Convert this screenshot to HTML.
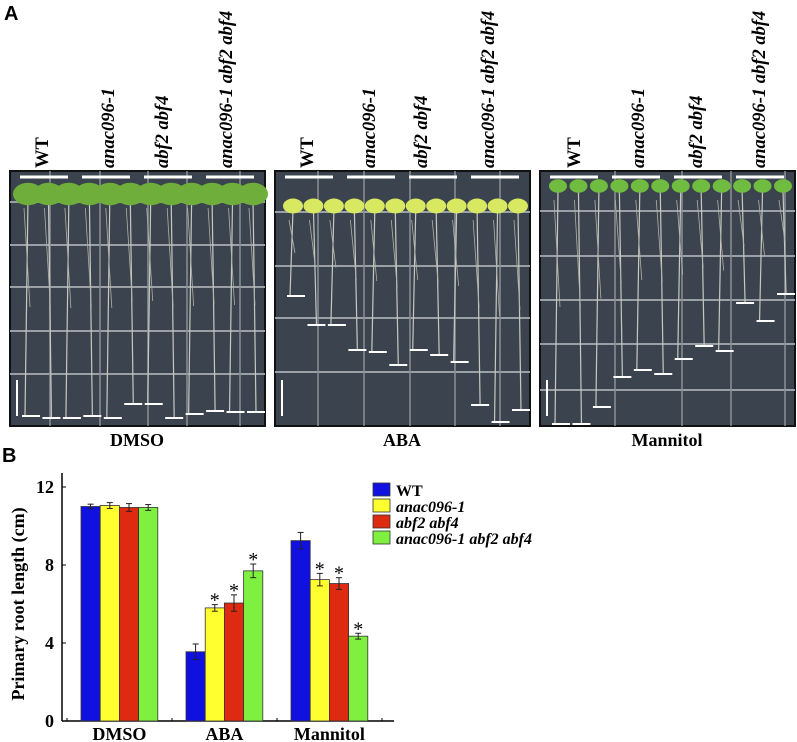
<!DOCTYPE html>
<html><head><meta charset="utf-8"><style>
body{margin:0;background:#fff;}
svg{display:block;font-family:"Liberation Serif",serif;}
</style></head><body>
<svg id="fig" width="797" height="742" viewBox="0 0 797 742">
<text x="4" y="20" font-family="Liberation Sans" font-weight="bold" font-size="20">A</text>
<text x="2" y="462" font-family="Liberation Sans" font-weight="bold" font-size="20">B</text>
<g id="photos"></g>
<g id="chart"></g>
</svg>
<script>
const NS='http://www.w3.org/2000/svg';
function mk(tag,attrs,parent,txt){const e=document.createElementNS(NS,tag);for(const k in attrs)e.setAttribute(k,attrs[k]);if(txt!==undefined)e.textContent=txt;parent.appendChild(e);return e;}

// ---------- Photo panels (illustrative) ----------
const photos=document.getElementById('photos');
const panels=[
 {name:'DMSO',x:10,labelX:[48,114,168,232],leaf:'#6fae3a',leafY:198,leafR:15,marks:[416,418,418,416,418,404,404,418,414,411,412,412],gridY:[202,245,287,331,374],gridX:[50,100,148,187,240]},
 {name:'ABA',x:275,labelX:[313,375,427,494],leaf:'#d8e860',leafY:210,leafR:10,marks:[296,325,325,350,352,365,350,355,362,405,422,410],gridY:[212,266,318,372],gridX:[318,364,410,455,500]},
 {name:'Mannitol',x:540,labelX:[580,644,702,765],leaf:'#6fbc40',leafY:190,leafR:9,marks:[424,424,407,377,370,374,359,346,351,303,321,294],gridY:[211,256,300,344,390],gridX:[615,682,731,785]}
];
const genos=['WT','anac096-1','abf2 abf4','anac096-1 abf2 abf4'];
panels.forEach((p,pi)=>{
 const g=mk('g',{},photos);
 
 
 mk('rect',{x:p.x,y:171,width:255,height:255,fill:'#3b444e',stroke:'#111',['stroke-width']:2},g);
 p.gridY.forEach(y=>mk('line',{x1:p.x,x2:p.x+255,y1:y,y2:y,stroke:'#9aa0a6','stroke-width':2},g));
 p.gridX.forEach(x=>mk('line',{x1:x,x2:x,y1:171,y2:426,stroke:'#8a9096','stroke-width':1.5},g));
 for(let i=0;i<4;i++){mk('line',{x1:p.x+10+i*62,x2:p.x+58+i*62,y1:177,y2:177,stroke:'#fff','stroke-width':3},g);}
 const n=p.marks.length;
 for(let i=0;i<n;i++){
  const cx=p.x+18+i*(225/(n-1));
  mk('line',{x1:cx,x2:cx+(i%2?3:-3),y1:p.leafY,y2:p.marks[i],stroke:'#c8c8c0','stroke-width':1.2},g);
  mk('line',{x1:cx-4,x2:cx+2,y1:p.leafY+10,y2:(p.leafY+p.marks[i])/2,stroke:'#b0b0a8','stroke-width':0.8},g);
  mk('ellipse',{cx:cx,cy:p.leafY-4,rx:p.leafR,ry:p.leafR*0.75,fill:p.leaf},g);
  mk('line',{x1:cx-6,x2:cx+12,y1:p.marks[i],y2:p.marks[i],stroke:'#fff','stroke-width':2},g);
 }
 mk('line',{x1:p.x+7,x2:p.x+7,y1:380,y2:416,stroke:'#fff','stroke-width':2},g);
 const t=mk('text',{x:p.x+127,y:446,'text-anchor':'middle','font-weight':'bold','font-size':18},photos,p.name);
 
 
 p.labelX.forEach((lx,i)=>{
  const tt=mk('text',{x:0,y:0,transform:`translate(${lx},168) rotate(-90)`,'font-weight':'bold','font-size':18.5,'font-style':i?'italic':'normal'},photos,genos[i]);
  
  
 });
});

// ---------- Bar chart ----------
const categories=['DMSO','ABA','Mannitol'];
const seriesNames=['WT','anac096-1','abf2 abf4','anac096-1 abf2 abf4'];
const seriesColors=['#1010e0','#ffff30','#dd2a10','#80f040'];
const valWT=[11.0,3.55,9.25];
const valAnac=[11.05,5.8,7.25];
const valAbf=[10.95,6.05,7.05];
const valTriple=[10.95,7.7,4.35];
const errWT=[0.12,0.4,0.42];
const errAnac=[0.15,0.17,0.32];
const errAbf=[0.2,0.42,0.3];
const errTriple=[0.15,0.35,0.15];
const sigWT=[0,0,0],sigAnac=[0,1,1],sigAbf=[0,1,1],sigTriple=[0,1,1];
const yTicks=[0,4,8,12];

const chart=document.getElementById('chart');
const y0=721,yScale=19.5,axX=62;
const yPos=v=>y0-v*yScale;
const groupX=i=>81+i*105;
const barW=19.2;
const vals=[valWT,valAnac,valAbf,valTriple],errs=[errWT,errAnac,errAbf,errTriple],sigs=[sigWT,sigAnac,sigAbf,sigTriple];

const ya=mk('line',{x1:axX,x2:axX,y1:y0,y2:473,stroke:'#000','stroke-width':1.5},chart);


const xa=mk('line',{x1:axX,x2:394,y1:y0,y2:y0,stroke:'#000','stroke-width':1.5},chart);


yTicks.forEach(t=>{
 mk('line',{x1:axX,x2:axX+4,y1:yPos(t),y2:yPos(t),stroke:'#000','stroke-width':1},chart);
 const tl=mk('text',{x:axX-8,y:yPos(t)+6,'text-anchor':'end','font-weight':'bold','font-size':18},chart,String(t));
 
 
});
[0,1,2,3].forEach(i=>mk('line',{x1:groupX(i)-14,x2:groupX(i)-14,y1:y0,y2:y0-3,stroke:'#000'},chart));
const yt=mk('text',{x:0,y:0,transform:'translate(24,604) rotate(-90)','text-anchor':'middle','font-weight':'bold','font-size':18},chart,'Primary root length (cm)');


categories.forEach((c,ci)=>{
 const cl=mk('text',{x:groupX(ci)+2*barW,y:740,'text-anchor':'middle','font-weight':'bold','font-size':18},chart,c);
 
 
 for(let s=0;s<4;s++){
  const v=vals[s][ci],e=errs[s][ci],x=groupX(ci)+s*barW;
  const r=mk('rect',{x:x,y:yPos(v),width:barW,height:v*yScale,fill:seriesColors[s],stroke:'#333','stroke-width':0.8},chart);
  
  
  const cx=x+barW/2;
  mk('line',{x1:cx,x2:cx,y1:yPos(v+e),y2:yPos(v-e),stroke:'#222','stroke-width':1},chart);
  mk('line',{x1:cx-3,x2:cx+3,y1:yPos(v+e),y2:yPos(v+e),stroke:'#222','stroke-width':1},chart);
  mk('line',{x1:cx-3,x2:cx+3,y1:yPos(v-e),y2:yPos(v-e),stroke:'#222','stroke-width':1},chart);
  if(sigs[s][ci]){const st=mk('text',{x:cx,y:yPos(v+e)+2,'text-anchor':'middle','font-size':20},chart,'*');
   
   }
 }
});
seriesNames.forEach((n,i)=>{
 const g=mk('g',{},chart);
 
 
 const ly=483+i*16;
 mk('rect',{x:373,y:ly,width:17,height:13,fill:seriesColors[i],stroke:'#333','stroke-width':0.8},g);
 mk('text',{x:396,y:ly+13,'font-weight':'bold','font-size':16,'font-style':i?'italic':'normal'},g,n);
});
</script>
</body></html>
